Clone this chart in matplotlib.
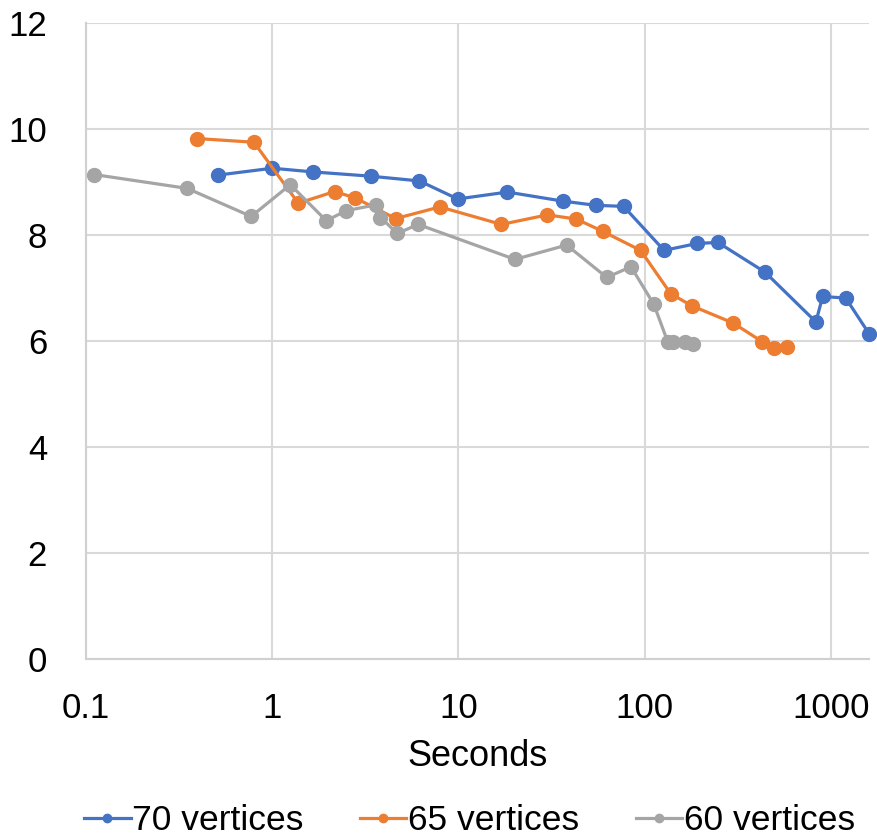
import matplotlib.pyplot as plt

# seconds / values per series
sec_70 = [0.51, 1.0, 1.66, 3.37, 6.17, 9.9, 18.3, 36.2, 54.6, 77, 127, 191, 247, 442, 830, 902, 1200, 1600]
val_70 = [9.13, 9.26, 9.19, 9.11, 9.02, 8.68, 8.81, 8.64, 8.56, 8.54, 7.71, 7.84, 7.86, 7.30, 6.36, 6.84, 6.81, 6.14]

sec_65 = [0.395, 0.797, 1.38, 2.16, 2.79, 4.60, 7.94, 17.0, 30.0, 43.0, 59.4, 95, 138, 180, 298, 426, 494, 578]
val_65 = [9.82, 9.75, 8.60, 8.82, 8.70, 8.31, 8.53, 8.20, 8.38, 8.30, 8.07, 7.71, 6.89, 6.66, 6.34, 5.99, 5.87, 5.88]

sec_60 = [0.111, 0.349, 0.771, 1.25, 1.95, 2.50, 3.62, 3.81, 4.70, 6.07, 20.1, 38.1, 62.5, 84.4, 112, 133, 142, 165, 181]
val_60 = [9.14, 8.88, 8.35, 8.95, 8.27, 8.46, 8.57, 8.33, 8.03, 8.20, 7.54, 7.81, 7.20, 7.40, 6.69, 5.98, 5.98, 5.98, 5.95]

labels = ["70 vertices", "65 vertices", "60 vertices"]
colors = ["#4472C4", "#ED7D31", "#A5A5A5"]

plt.rcParams["font.family"] = ["Liberation Sans", "DejaVu Sans"]

fig = plt.figure(figsize=(8.77, 8.4), dpi=100)
ax = fig.add_axes([86 / 877, 1 - 659 / 840, (869 - 86) / 877, (659 - 23) / 840])

for s, v, lab, c in zip([sec_70, sec_65, sec_60], [val_70, val_65, val_60], labels, colors):
    ax.plot(s, v, color=c, lw=2.3, marker="o", ms=10, label=lab, clip_on=False, zorder=3)

ax.set_xscale("log")
ax.set_xlim(0.1, 1600)
ax.set_ylim(0, 12)
ax.set_yticks(range(0, 13, 2))
ax.set_xticks([0.1, 1, 10, 100, 1000])
ax.set_xticklabels(["0.1", "1", "10", "100", "1000"])
ax.minorticks_off()

ax.grid(True, color="#D9D9D9", lw=1.5)
ax.set_axisbelow(True)
for side in ["top", "right"]:
    ax.spines[side].set_visible(False)
for side in ["left", "bottom"]:
    ax.spines[side].set_color("#D0D0D0")
    ax.spines[side].set_linewidth(1.5)

ax.tick_params(axis="both", length=0, labelsize=25)
ax.tick_params(axis="y", pad=28)
ax.tick_params(axis="x", pad=24)
ax.set_xlabel("Seconds", fontsize=26, labelpad=10)

ax.legend(loc="center", bbox_to_anchor=(0.49, -0.254), ncol=3, frameon=False,
          fontsize=25.5, handlelength=1.3, handletextpad=0.05, columnspacing=1.6,
          markerscale=0.6)

fig.savefig("out.png", dpi=100)
